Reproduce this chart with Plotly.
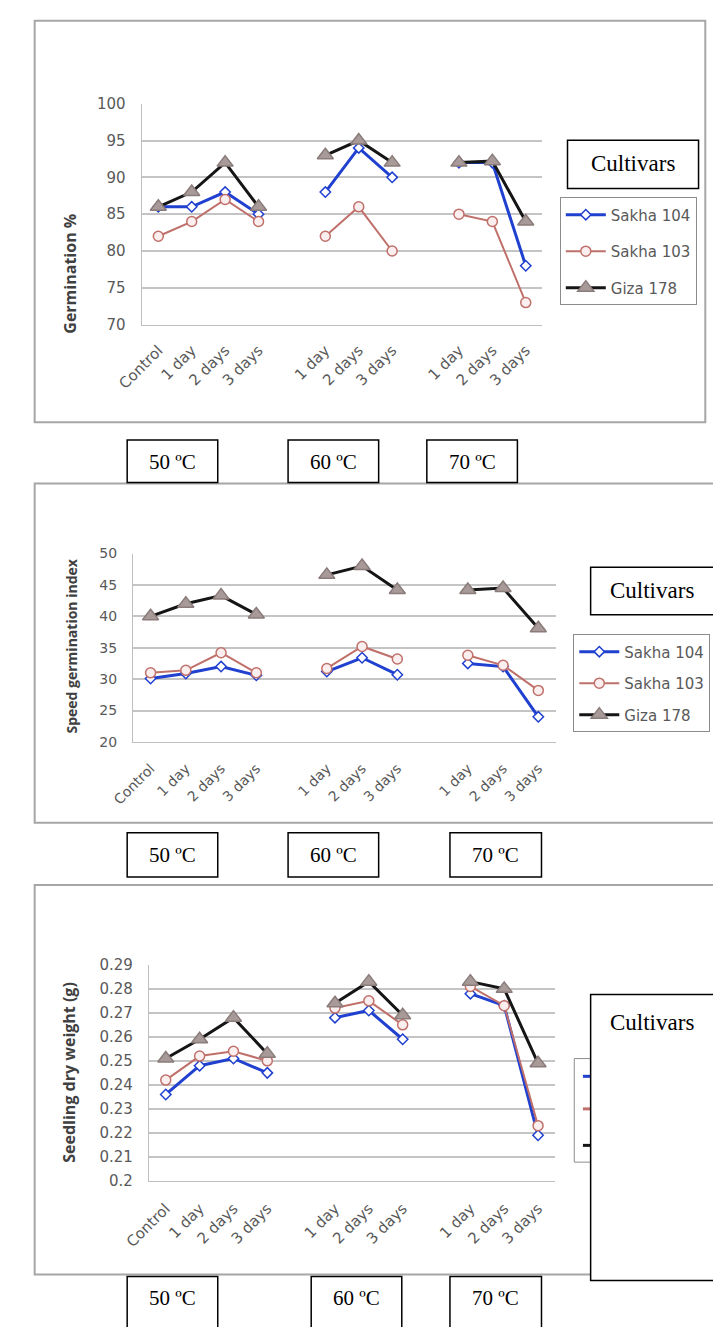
import plotly.graph_objects as go

W, H = 713, 1327

# ---------------- data ----------------
categories = ["Control", "1 day", "2 days", "3 days", "",
              "1 day", "2 days", "3 days", "",
              "1 day", "2 days", "3 days"]
series_names = ["Sakha 104", "Sakha 103", "Giza 178"]

germ_sakha104 = [86, 86, 88, 85, None, 88, 94, 90, None, 92, 92, 78]
germ_sakha103 = [82, 84, 87, 84, None, 82, 86, 80, None, 85, 84, 73]
germ_giza178 = [86, 88, 92, 86, None, 93, 95, 92, None, 92, 92.2, 84]

speed_sakha104 = [30.1, 30.9, 32.0, 30.6, None, 31.2, 33.4, 30.7, None, 32.5, 32.0, 24.0]
speed_sakha103 = [31.0, 31.4, 34.2, 31.0, None, 31.7, 35.2, 33.2, None, 33.8, 32.2, 28.2]
speed_giza178 = [40.0, 42.0, 43.3, 40.3, None, 46.6, 48.0, 44.2, None, 44.2, 44.5, 38.1]

dry_sakha104 = [0.236, 0.248, 0.251, 0.245, None, 0.268, 0.271, 0.259, None, 0.278, 0.273, 0.219]
dry_sakha103 = [0.242, 0.252, 0.254, 0.250, None, 0.272, 0.275, 0.265, None, 0.281, 0.273, 0.223]
dry_giza178 = [0.251, 0.259, 0.268, 0.253, None, 0.274, 0.283, 0.269, None, 0.283, 0.280, 0.249]

germ_ticks = [70, 75, 80, 85, 90, 95, 100]
speed_ticks = [20, 25, 30, 35, 40, 45, 50]
dry_ticks = [0.2, 0.21, 0.22, 0.23, 0.24, 0.25, 0.26, 0.27, 0.28, 0.29]
dry_ticklabels = ["0.2", "0.21", "0.22", "0.23", "0.24", "0.25", "0.26", "0.27", "0.28", "0.29"]

y_titles = ["Germination %", "Speed germination index", "Seedling dry weight (g)"]
temp_labels = ["50 ºC", "60 ºC", "70 ºC"]
legend_title = "Cultivars"

# ---------------- helpers ----------------
def px(x):
    return x / W

def py(y):
    return 1 - y / H

xpos = list(range(len(categories)))

styles = [
    dict(color="#2040d0", width=3, symbol="diamond", msize=8, mfill="white", mline="#2040d0"),
    dict(color="#c0706a", width=2, symbol="circle", msize=10, mfill="#fbeeee", mline="#c0706a"),
    dict(color="#151515", width=3, symbol="triangle-up", msize=14, mfill="#a89a98", mline="#8a7c7a"),
]

panels = [
    dict(data=[germ_sakha104, germ_sakha103, germ_giza178], ticks=germ_ticks,
         ticktext=[str(t) for t in germ_ticks], rng=[70, 100],
         x0=120, x1=536, y0=96, y1=320, legend="legend", tickfont=15, xfont=15,
         title_x=46, title_y=268, title_size=16, xstand=10),
    dict(data=[speed_sakha104, speed_sakha103, speed_giza178], ticks=speed_ticks,
         ticktext=[str(t) for t in speed_ticks], rng=[20, 50],
         x0=111, x1=550, y0=552, y1=743, legend="legend2", tickfont=14, xfont=14,
         title_x=47, title_y=646, title_size=14, xstand=12),
    dict(data=[dry_sakha104, dry_sakha103, dry_giza178], ticks=dry_ticks,
         ticktext=dry_ticklabels, rng=[0.2, 0.29],
         x0=127.5, x1=549, y0=969, y1=1188, legend=None, tickfont=15, xfont=15,
         title_x=45, title_y=1078, title_size=16, xstand=12),
]

fig = go.Figure()
layout = {}
for i, p in enumerate(panels):
    n = "" if i == 0 else str(i + 1)
    for j, (vals, st) in enumerate(zip(p["data"], styles)):
        fig.add_trace(go.Scatter(
            x=xpos, y=vals, name=series_names[j], mode="lines+markers",
            xaxis="x" + n, yaxis="y" + n,
            line=dict(color=st["color"], width=st["width"]),
            marker=dict(symbol=st["symbol"], size=st["msize"], color=st["mfill"],
                        line=dict(color=st["mline"], width=1.5)),
            connectgaps=False,
            showlegend=p["legend"] is not None,
            legend=p["legend"] if p["legend"] else "legend",
            legendgroup=f"g{i}{j}",
        ))
    layout["xaxis" + n] = dict(
        domain=[px(p["x0"]), px(p["x1"])], anchor="y" + n,
        range=[-0.5, len(categories) - 0.5], tickmode="array",
        tickvals=xpos, ticktext=categories, tickangle=-45,
        showgrid=False, zeroline=False, showline=True, linecolor="#bfbfbf", linewidth=1,
        ticks="", ticklabelstandoff=p["xstand"],
        tickfont=dict(family="DejaVu Sans", size=p["xfont"], color="#595959"),
        fixedrange=True,
    )
    layout["yaxis" + n] = dict(
        domain=[py(p["y1"]), py(p["y0"])], anchor="x" + n,
        range=p["rng"], tickmode="array", tickvals=p["ticks"], ticktext=p["ticktext"],
        showgrid=True, gridcolor="#c4c4c4", gridwidth=1.5, zeroline=False,
        showline=True, linecolor="#bfbfbf", linewidth=1, ticks="",
        ticklabelstandoff=12,
        tickfont=dict(family="DejaVu Sans", size=p["tickfont"], color="#595959"),
        fixedrange=True,
    )

shapes = []
annotations = []

# panel frames
frames = [(9, 12, 705, 419), (9, 481, 725, 825), (9, 888, 725, 1283)]
for (a, b, c, d) in frames:
    shapes.append(dict(type="rect", xref="paper", yref="paper",
                       x0=px(a), x1=px(c), y0=py(d), y1=py(b),
                       line=dict(color="#a6a6a6", width=2), layer="below"))

# y-axis titles
for p, t in zip(panels, y_titles):
    annotations.append(dict(text="<b>" + t + "</b>", xref="paper", yref="paper",
                            x=px(p["title_x"]), y=py(p["title_y"]), textangle=-90,
                            showarrow=False, xanchor="center", yanchor="middle",
                            font=dict(family="Open Sans", size=p["title_size"], color="#404040")))

# temperature boxes
box_rows = [
    (437, 480, 459, [(105, 199), (272, 366), (416, 510)]),
    (835, 880, 858, [(105, 199), (272, 366), (440, 535)]),
    (1285, 1345, 1307, [(105, 199), (296, 390), (440, 535)]),
]
for (top, bot, cy, boxes) in box_rows:
    for (a, b), lab in zip(boxes, temp_labels):
        shapes.append(dict(type="rect", xref="paper", yref="paper",
                           x0=px(a), x1=px(b), y0=py(bot), y1=py(top),
                           line=dict(color="black", width=1.5), fillcolor="white", layer="above"))
        annotations.append(dict(text=lab, xref="paper", yref="paper",
                                x=px((a + b) / 2), y=py(cy), showarrow=False,
                                xanchor="center", yanchor="middle",
                                font=dict(family="Liberation Serif", size=21, color="black")))

# partial legend of panel 3 (mostly hidden behind Cultivars box)
shapes.append(dict(type="rect", xref="paper", yref="paper",
                   x0=px(569), x1=px(600), y0=py(1169), y1=py(1064),
                   line=dict(color="#8c8c8c", width=1), fillcolor="white", layer="above"))
for yy, st in zip([1082, 1115, 1152], styles):
    shapes.append(dict(type="line", xref="paper", yref="paper",
                       x0=px(578), x1=px(592), y0=py(yy), y1=py(yy),
                       line=dict(color=st["color"], width=3), layer="above"))

# Cultivars boxes
cult_boxes = [(562, 133, 698, 182, 630, 157),
              (586, 566, 725, 614, 650, 590),
              (586, 999, 725, 1289, 650, 1027)]
for (a, b, c, d, tx, ty) in cult_boxes:
    shapes.append(dict(type="rect", xref="paper", yref="paper",
                       x0=px(a), x1=px(c), y0=py(d), y1=py(b),
                       line=dict(color="black", width=1.5), fillcolor="white", layer="above"))
    annotations.append(dict(text=legend_title, xref="paper", yref="paper",
                            x=px(tx), y=py(ty), showarrow=False,
                            xanchor="center", yanchor="middle",
                            font=dict(family="Liberation Serif", size=23, color="black")))

legend_common = dict(
    xanchor="left", yanchor="top", bgcolor="white",
    bordercolor="#8c8c8c", borderwidth=1, traceorder="grouped", itemwidth=40,
    font=dict(family="DejaVu Sans", size=15, color="#595959"),
)
layout["legend"] = dict(legend_common, x=px(554), y=py(191), tracegroupgap=14)
layout["legend2"] = dict(legend_common, x=px(568), y=py(634), tracegroupgap=9)

fig.update_layout(
    width=W, height=H, autosize=False,
    margin=dict(l=0, r=0, t=0, b=0, pad=0),
    paper_bgcolor="white", plot_bgcolor="white",
    shapes=shapes, annotations=annotations,
    **layout,
)

fig.write_html("out.html")
